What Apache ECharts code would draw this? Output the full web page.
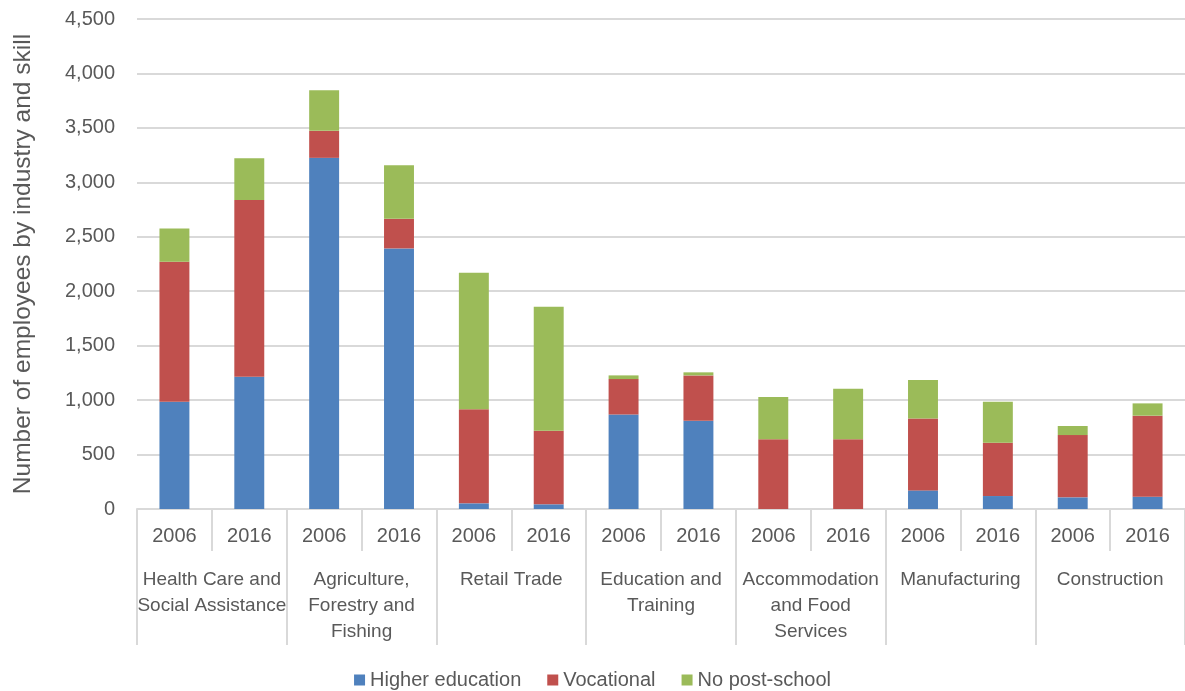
<!DOCTYPE html>
<html>
<head>
<meta charset="utf-8">
<script src="https://cdn.jsdelivr.net/npm/echarts@6/dist/echarts.min.js"></script>
<style>html,body{margin:0;padding:0;background:#fff;}#chart{width:1185px;height:691px;}</style>
</head>
<body>
<div id="chart"></div>
<script>
const years = ['2006','2016','2006','2016','2006','2016','2006','2016','2006','2016','2006','2016','2006','2016'];
const industries = ['Health Care and\nSocial Assistance','Agriculture,\nForestry and\nFishing','Retail Trade','Education and\nTraining','Accommodation\nand Food\nServices','Manufacturing','Construction'];
const higherEducation = [985,1215,3225,2393,52,43,869,811,0,0,171,119,107,113];
const vocational = [1285,1622,248,272,863,676,324,416,640,640,661,490,572,744];
const noPostSchool = [307,385,373,493,1254,1138,34,28,388,464,352,376,83,113];
const yTicks = {min:0, max:4500, interval:500};

const font = 'Liberation Sans';
const txt = '#595959';
const gridC = '#D9D9D9';
const chart = echarts.init(document.getElementById('chart'));
chart.setOption({
  animation:false,
  textStyle:{fontFamily:font},
  grid:{left:137,width:1051,top:19,height:490},
  legend:{top:665,left:'center',icon:'rect',itemWidth:11,itemHeight:11,itemGap:26,
    textStyle:{fontSize:20,color:txt,fontFamily:font},
    data:['Higher education','Vocational','No post-school']},
  xAxis:[
    {type:'category',data:years,position:'bottom',
     axisLine:{show:true,lineStyle:{color:gridC,width:2}},
     axisTick:{show:true,interval:0,length:42,lineStyle:{color:gridC,width:2}},
     axisLabel:{margin:17,fontSize:20,color:txt,fontFamily:font,interval:0}},
    {type:'category',data:industries,position:'bottom',
     axisLine:{show:false},
     axisTick:{show:true,length:136,interval:0,lineStyle:{color:gridC,width:2}},
     axisLabel:{margin:58,fontSize:19,lineHeight:26,color:txt,fontFamily:font,interval:0}}
  ],
  yAxis:{type:'value',min:yTicks.min,max:yTicks.max,interval:yTicks.interval,
    axisLine:{show:false},axisTick:{show:false},
    splitLine:{lineStyle:{color:gridC,width:2}},
    axisLabel:{margin:22,fontSize:20,color:txt,fontFamily:font,
      formatter:v=>v.toLocaleString('en-US')},
    name:'Number of employees by industry and skill',nameLocation:'middle',nameGap:101,
    nameTextStyle:{fontSize:24.5,color:txt,fontFamily:font}},
  series:[
    {name:'Higher education',type:'bar',stack:'s',data:higherEducation,barWidth:'40%',itemStyle:{color:'#4F81BD'}},
    {name:'Vocational',type:'bar',stack:'s',data:vocational,barWidth:'40%',itemStyle:{color:'#C0504D'}},
    {name:'No post-school',type:'bar',stack:'s',data:noPostSchool,barWidth:'40%',itemStyle:{color:'#9BBB59'}}
  ]
});
</script>
</body>
</html>
